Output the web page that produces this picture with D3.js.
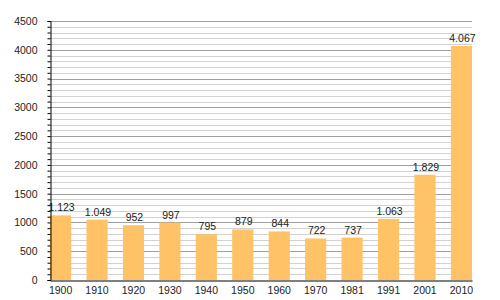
<!DOCTYPE html>
<html>
<head>
<meta charset="utf-8">
<script src="https://cdn.jsdelivr.net/npm/d3@7"></script>
<style>
  body { margin: 0; background: #fff; }
  text { font-family: "Liberation Sans", Arial, sans-serif; }
</style>
</head>
<body>
<script>
const years = ['1900', '1910', '1920', '1930', '1940', '1950', '1960', '1970', '1981', '1991', '2001', '2010']
const population = [1123, 1049, 952, 997, 795, 879, 844, 722, 737, 1063, 1829, 4067]
const valueLabels = ['1.123', '1.049', '952', '997', '795', '879', '844', '722', '737', '1.063', '1.829', '4.067']
const yMax = 4500

const width = 500
const height = 300
const margin = { top: 21, right: 28, bottom: 20, left: 50 }

const svg = d3.select('body')
  .append('svg')
  .attr('width', width)
  .attr('height', height)

const x = d3.scaleBand()
  .domain(years)
  .range([margin.left, width - margin.right])
  .paddingInner(0.42)
  .paddingOuter(0)

const y = d3.scaleLinear()
  .domain([0, yMax])
  .range([height - margin.bottom, margin.top])

// grid: minor every 100, major every 500
const minor = d3.range(100, yMax + 1, 100)
svg.append('g')
  .selectAll('line')
  .data(minor)
  .join('line')
  .attr('x1', margin.left)
  .attr('x2', width - margin.right)
  .attr('y1', d => Math.round(y(d)) + 0.5)
  .attr('y2', d => Math.round(y(d)) + 0.5)
  .attr('stroke', d => d % 500 === 0 ? '#a0a0a0' : '#d2d2d2')
  .attr('stroke-width', 1)

// bars
svg.append('g')
  .selectAll('rect')
  .data(population)
  .join('rect')
  .attr('x', (d, i) => x(years[i]))
  .attr('y', d => y(d))
  .attr('width', x.bandwidth())
  .attr('height', d => y(0) - y(d))
  .attr('fill', '#ffc266')

// value labels
svg.append('g')
  .selectAll('text')
  .data(population)
  .join('text')
  .attr('x', (d, i) => x(years[i]) + x.bandwidth() / 2 + 1)
  .attr('y', d => y(d) - 4)
  .attr('text-anchor', 'middle')
  .attr('font-size', 10.5)
  .attr('fill', '#222')
  .text((d, i) => valueLabels[i])

// y axis
const yAxis = d3.axisLeft(y)
  .tickValues(d3.range(0, yMax + 1, 100))
  .tickSize(3)
  .tickFormat(d => d % 500 === 0 ? d : '')

const gy = svg.append('g')
  .attr('transform', `translate(${margin.left + 0.5},0)`)
  .call(yAxis)
gy.select('.domain').attr('stroke', '#000')
gy.selectAll('.tick line').attr('stroke', '#000')
gy.selectAll('.tick text')
  .attr('x', -13)
  .attr('font-size', 10.5)
  .attr('font-family', '"Liberation Sans", Arial, sans-serif')
  .attr('fill', '#222')

// x axis
const xAxis = d3.axisBottom(x).tickSize(0).tickPadding(6)
const gx = svg.append('g')
  .attr('transform', `translate(0,${height - margin.bottom + 0.5})`)
  .call(xAxis)
gx.select('.domain').attr('stroke', '#000').attr('stroke-width', 1.2)
gx.selectAll('.tick text')
  .attr('font-size', 10.5)
  .attr('font-family', '"Liberation Sans", Arial, sans-serif')
  .attr('fill', '#222')
</script>
</body>
</html>
